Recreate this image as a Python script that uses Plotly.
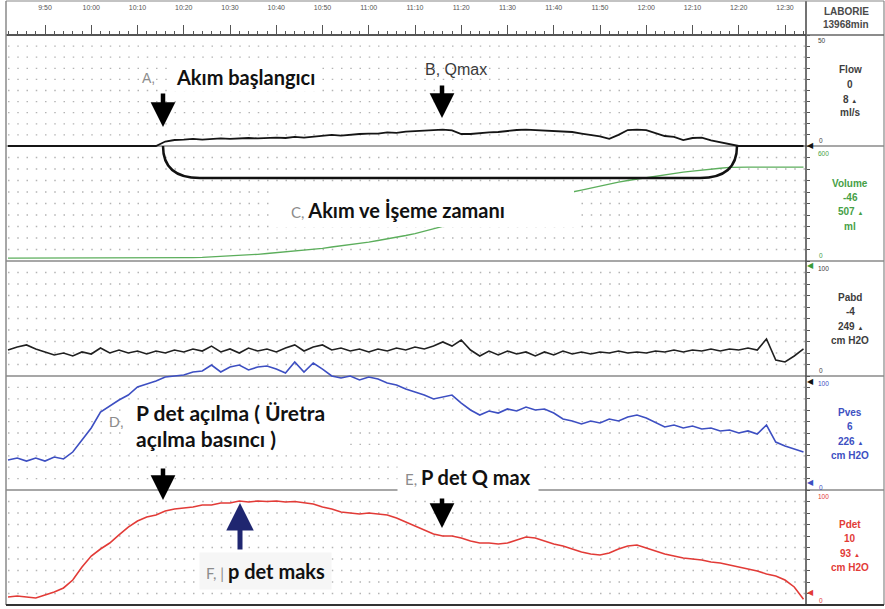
import plotly.graph_objects as go

# ---------------- data ----------------
t = list(range(582, 756, 2))  # time in seconds (9:42 .. 12:34)

tick_vals = [590, 600, 610, 620, 630, 640, 650, 660, 670, 680, 690, 700, 710, 720, 730, 740, 750]
tick_text = ["9:50", "10:00", "10:10", "10:20", "10:30", "10:40", "10:50", "11:00", "11:10",
             "11:20", "11:30", "11:40", "11:50", "12:00", "12:10", "12:20", "12:30"]

flow = [0]*17 + [2.0, 2.7, 2.9, 3.2, 2.9, 3.2, 3.4, 3.2, 3.4, 3.6, 3.4, 3.6, 3.8, 3.6, 4.1, 3.8,
                 4.3, 4.5, 5.0, 4.7, 5.2, 5.4, 5.6, 5.6, 6.1, 5.9, 6.5, 6.8, 7.0, 7.2, 7.4, 7.0,
                 5.4, 5.4, 5.9, 6.1, 6.3, 6.8, 7.2, 7.4, 7.2, 7.2, 7.0, 6.8, 6.3, 5.6, 5.0, 4.3,
                 3.2, 5.0, 7.2, 7.4, 7.2, 5.9, 4.5, 4.1, 2.7, 3.6, 3.8, 2.5, 1.6, 0.7, 0] + [0]*7

volume = [15]*18 + [16, 17, 18, 19, 21, 23, 26, 29, 31, 35, 39, 43, 47, 51, 55, 60, 66, 73, 79, 85,
                    91, 99, 107, 115, 123, 133, 143, 156, 170, 180, 193, 206, 219, 230, 243, 256,
                    269, 282, 295, 308, 321, 336, 350, 360, 370, 381, 391, 402, 412, 420, 428, 436,
                    443, 451, 459, 464, 469, 475, 480, 484, 488] + [490]*8

pabd = [22.6, 25.2, 27.0, 23.5, 20.9, 18.3, 20.0, 17.4, 20.9, 19.1,
        24.3, 20.0, 22.6, 20.0, 21.7, 19.1, 21.7, 20.0, 22.6, 20.9,
        23.5, 21.7, 26.0, 20.9, 23.5, 20.0, 24.3, 21.7, 23.5, 20.9,
        24.3, 27.0, 21.7, 25.2, 27.0, 22.6, 24.3, 21.7, 23.5, 20.9,
        23.5, 21.7, 24.3, 22.6, 25.2, 23.5, 26.0, 29.6, 26.0, 31.3,
        22.6, 17.4, 21.7, 18.3, 21.7, 19.1, 20.9, 17.4, 20.9, 18.3,
        21.7, 19.1, 20.9, 19.1, 20.9, 20.0, 21.7, 20.0, 20.9, 20.0,
        21.7, 20.9, 22.6, 20.9, 22.6, 21.7, 23.5, 21.7, 23.5, 22.6,
        24.3, 22.6, 32.2, 13.9, 12.2, 17.4, 23.5]

pves = [26.3, 28.1, 25.4, 28.1, 25.4, 28.9, 27.2, 33.3, 43.9, 54.4,
        68.4, 73.7, 78.9, 83.3, 90.4, 93.0, 95.6, 99.1, 100.0, 100.9,
        103.5, 104.4, 109.6, 103.5, 107.9, 109.6, 105.3, 107.9, 108.8, 106.1,
        102.6, 112.3, 103.5, 111.4, 106.1, 100.0, 98.2, 100.0, 96.5, 99.1,
        97.4, 93.9, 92.1, 88.6, 86.0, 83.3, 79.8, 81.6, 83.3, 76.3,
        70.2, 65.8, 69.3, 67.5, 71.1, 69.3, 72.8, 70.2, 71.1, 67.5,
        62.3, 60.5, 57.9, 60.5, 58.8, 62.3, 60.5, 64.0, 65.8, 63.2,
        59.6, 55.3, 57.0, 54.4, 56.1, 53.5, 54.4, 51.8, 52.6, 50.0,
        51.8, 49.1, 57.0, 42.1, 38.6, 36.0, 33.3]

pdet = [7.0, 7.8, 7.0, 6.1, 8.7, 11.3, 14.8, 21.7, 33.0, 42.6,
        48.7, 53.9, 60.9, 67.8, 73.0, 76.5, 78.3, 81.7, 83.5, 84.3,
        85.2, 87.0, 87.0, 88.7, 88.7, 90.4, 89.6, 90.4, 90.0, 90.4,
        89.6, 90.0, 88.7, 87.8, 85.2, 83.5, 80.9, 80.0, 79.1, 80.0,
        79.1, 78.3, 75.7, 72.2, 68.7, 65.2, 61.7, 60.0, 60.0, 58.3,
        55.7, 53.9, 53.9, 53.0, 53.9, 56.5, 59.1, 58.3, 55.7, 53.0,
        51.3, 48.7, 46.1, 44.3, 43.5, 45.2, 48.7, 51.3, 52.2, 49.6,
        47.0, 44.3, 42.6, 40.9, 40.0, 39.1, 37.4, 36.5, 34.8, 33.0,
        31.3, 29.6, 27.0, 25.2, 21.7, 15.7, 5.0]

# ---------------- geometry helpers (pixel -> paper) ----------------
W, H = 885, 609
L, R, T, B = 6, 806, 35, 605


def px(X):
    return (X - L) / (R - L)


def py(Y):
    return (B - Y) / (B - T)


panels = [(35, 146), (146, 261), (261, 376), (376, 490), (490, 605)]

fig = go.Figure()
fig.add_trace(go.Scatter(x=t, y=flow, yaxis="y", mode="lines", line=dict(color="#151515", width=1.8)))
fig.add_trace(go.Scatter(x=t, y=volume, yaxis="y2", mode="lines", line=dict(color="#5cae5c", width=1.3)))
fig.add_trace(go.Scatter(x=t, y=pabd, yaxis="y3", mode="lines", line=dict(color="#202020", width=1.6)))
fig.add_trace(go.Scatter(x=t, y=pves, yaxis="y4", mode="lines", line=dict(color="#3d4fc2", width=1.6)))
fig.add_trace(go.Scatter(x=t, y=pdet, yaxis="y5", mode="lines", line=dict(color="#e23b37", width=1.6)))

x0 = 590 - (45 - L) / 4.625
x1 = 590 + (R - 45) / 4.625


def yax(dom, rng, gv):
    return dict(domain=dom, range=rng, anchor="x", side="right", showticklabels=False,
                ticks="outside", ticklen=3, tickcolor="#555", tickvals=gv,
                showgrid=False, zeroline=False, showline=False, fixedrange=True)


fig.update_layout(
    width=W, height=H, margin=dict(l=L, r=W - R, t=T, b=H - B),
    paper_bgcolor="white", plot_bgcolor="rgba(0,0,0,0)", showlegend=False,
    xaxis=dict(domain=[0, 1], range=[x0, x1], anchor="free", position=1, side="top",
               tickmode="array", tickvals=tick_vals, ticktext=tick_text,
               ticks="outside", ticklen=9, tickcolor="#555", tickwidth=1,
               showline=True, linecolor="#555", linewidth=1.5,
               tickfont=dict(size=7, color="#555", family="Arial"), ticklabelstandoff=12,
               minor=dict(ticks="outside", ticklen=3, tickmode="linear", tick0=582, dtick=2,
                          tickcolor="#555"),
               showgrid=False, zeroline=False, fixedrange=True),
    yaxis=yax([py(150), py(35)], [-50 * 4 / 111, 50], list(range(0, 51, 5))),
    yaxis2=yax([py(261), py(146)], [0, 600], list(range(0, 601, 60))),
    yaxis3=yax([py(376), py(261)], [0, 100], list(range(0, 101, 10))),
    yaxis4=yax([py(490), py(350)], [0, 100 * (490 - 350) / 114], list(range(0, 101, 10))),
    yaxis5=yax([py(605), py(490)], [0, 100], list(range(0, 101, 10))),
)

shapes = []
# dotted grid rows
for (a, b) in panels:
    for k in range(1, 10):
        Y = a + k * (b - a) / 10
        shapes.append(dict(type="line", xref="x", yref="paper", x0=582, x1=x1, y0=py(Y), y1=py(Y),
                           line=dict(color="#b4b4b4", width=1.3, dash="1.5px,7.75px"), layer="below"))
# panel separators
for Y in [146, 261, 376, 490]:
    shapes.append(dict(type="line", xref="paper", yref="paper", x0=px(6), x1=px(884), y0=py(Y), y1=py(Y),
                       line=dict(color="#8a8a8a", width=1.5), layer="below"))
# frame
frame = [
    (6, 1, 6, 605, "#8a8a8a", 1.5), (806, 1, 806, 605, "#444", 1.5), (884, 1, 884, 605, "#888", 1.2),
    (6, 1, 884, 1, "#888", 1.2), (6, 605, 884, 605, "#333", 2), (806, 35, 884, 35, "#666", 1.5),
]
for (xa, ya, xb, yb, c, w) in frame:
    shapes.append(dict(type="line", xref="paper", yref="paper", x0=px(xa), x1=px(xb), y0=py(ya), y1=py(yb),
                       line=dict(color=c, width=w)))
# white label panels behind callouts C and D (as in the source image)
shapes.append(dict(type="rect", xref="paper", yref="paper", x0=px(272), x1=px(574), y0=py(227), y1=py(191),
                   fillcolor="white", line=dict(width=0), layer="above"))
shapes.append(dict(type="rect", xref="paper", yref="paper", x0=px(126), x1=px(350), y0=py(455), y1=py(400),
                   fillcolor="white", line=dict(width=0), layer="above"))
# rounded bracket (C)
path = "M {a},{b} C {c},{d} {e},{f} {g},{h} L {i},{h} C {j},{f} {k},{d} {k},{b}".format(
    a=px(163), b=py(146), c=px(163), d=py(168), e=px(176), f=py(178), g=px(200), h=py(178),
    i=px(700), j=px(724), k=px(737))
shapes.append(dict(type="path", xref="paper", yref="paper", path=path, line=dict(color="#111", width=2.5)))
fig.update_layout(shapes=shapes)

ann = []
CAL = "Lato, Open Sans, sans-serif"


def txt(X, Y, s, size=10, color="#444", bold=False, xa="center", fam="Arial", bg=None, pad=1, align="center"):
    d = dict(x=px(X), y=py(Y), xref="paper", yref="paper", text=("<b>%s</b>" % s) if bold else s,
             showarrow=False, xanchor=xa, yanchor="middle", align=align,
             font=dict(size=size, color=color, family=fam))
    if bg:
        d.update(bgcolor=bg, borderpad=pad)
    return d


def arrow(X, Yh, Yt, color="black", w=4.5):
    return dict(x=px(X), y=py(Yh), xref="paper", yref="paper", text="", showarrow=True,
                ax=0, ay=Yt - Yh, arrowhead=2, arrowsize=1.1, arrowwidth=w, arrowcolor=color, standoff=0)


# header box
ann += [txt(846, 11, "LABORIE", 10, "#4a4a4a", True), txt(846, 25, "13968min", 10, "#4a4a4a", True)]
# right panel labels
right = [
    ("Flow", "0", "8", "ml/s", "#3d3d3d", 70, "50", 40, 140),
    ("Volume", "-46", "507", "ml", "#46a046", 183, "600", 153, 255),
    ("Pabd", "-4", "249", "cm H2O", "#3d3d3d", 297, "100", 268, 370),
    ("Pves", "6", "226", "cm H2O", "#3d4fc2", 412, "100", 383, 487),
    ("Pdet", "10", "93", "cm H2O", "#e23b37", 524, "100", 496, 600),
]
for (name, v1, v2, unit, col, y0, top, ytop, ybot) in right:
    ann.append(txt(850, y0, name, 10, col, True))
    ann.append(txt(850, y0 + 14, v1, 10, col, True))
    ann.append(txt(850, y0 + 29, v2 + " <span style='font-size:6px'>▲</span>", 10, col, True))
    ann.append(txt(850, y0 + 43, unit, 10, col, True))
    ann.append(txt(816, ytop, top, 6.5, col, False, xa="left"))
    ann.append(txt(817, ybot, "0", 6.5, col, False, xa="left"))
# current value markers on right axis
for (Y, c) in [(145, "#111"), (265, "#3a9a3a"), (381, "#111"), (482, "#3d4fc2"), (592, "#e23b37")]:
    ann.append(txt(805, Y, "◀", 8, c, False, xa="left"))

# callouts
ann.append(txt(148, 78, "A,", 14, "#8c8c8c"))
ann.append(txt(245, 77, "Akım başlangıcı", 20, "#111", True, fam=CAL, bg="white", pad=2))
ann.append(arrow(163, 127, 92))
ann.append(txt(456, 70, "B, Qmax", 16, "#3a3a3a", fam="Arial"))
ann.append(arrow(442, 118, 84))
ann.append(txt(398, 210, "<span style='color:#8c8c8c;font-size:15px'>C, </span><b>Akım ve İşeme zamanı</b>",
               20, "#111", False, fam=CAL))
ann.append(txt(134, 412, "P det açılma ( Üretra", 21, "#111", True, xa="left", fam=CAL))
ann.append(txt(134, 438, "açılma basıncı )", 21, "#111", True, xa="left", fam=CAL))
ann.append(txt(116, 421, "D,", 15, "#8c8c8c"))
ann.append(arrow(163, 500, 467))
ann.append(txt(468, 477, "<span style='color:#8c8c8c;font-size:15px'>E, </span><b>P det Q max</b>",
               20, "#111", False, fam=CAL, bg="white", pad=7))
ann.append(arrow(442, 528, 497))
ann.append(txt(265, 571, "<span style='color:#8c8c8c;font-size:15px'>F, | </span><b>p det maks</b>",
               20, "#111", False, fam=CAL, bg="#f6f6f6", pad=6))
ann.append(arrow(240, 503, 551, "#1f2670", 5))
fig.update_layout(annotations=ann)

fig.write_html("out.html")
